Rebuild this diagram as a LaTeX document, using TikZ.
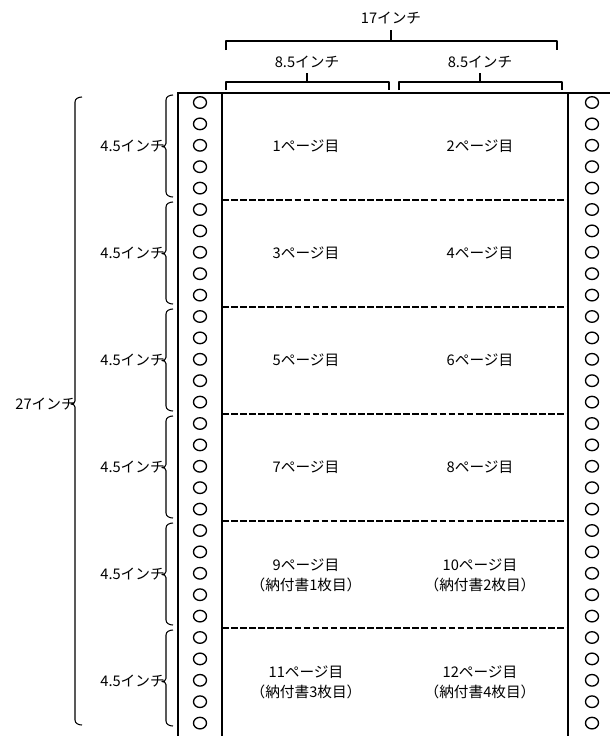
\documentclass[tikz,border=0pt]{standalone}
\usepackage{fontspec}
\newfontfamily\jpfont{Noto Sans CJK JP}
\usetikzlibrary{positioning}

\tikzset{
  frameline/.style={line width=2.2pt},
  perfline/.style={line width=1.4pt, dash pattern=on 5pt off 1.8pt},
  bracket/.style={line width=0.8pt, line join=round},
  hole/.style={line width=1pt},
  pagelabel/.style={align=center, inner sep=0pt, font=\jpfont\fontsize{11}{14.5}\selectfont},
  sizelabel/.style={inner sep=0pt, font=\jpfont\fontsize{11}{13}\selectfont}
}

\begin{document}
\begin{tikzpicture}[x=0.75pt, y=-0.75pt]
  \useasboundingbox (0,0) rectangle (610,736);

  % continuous form paper
  \draw[frameline] (178,740) -- (178,93) -- (615,93);
  \draw[frameline] (222,93) -- (222,740);
  \draw[frameline] (568,93) -- (568,740);
  \foreach \r in {1,...,5}
    \draw[perfline] (222,{93+107*\r}) -- (568,{93+107*\r});
  \foreach \i in {0,...,29} {
    \draw[hole] (200,{102.5+21.4*\i}) ellipse [x radius=6.5, y radius=5.8];
    \draw[hole] (592,{102.5+21.4*\i}) ellipse [x radius=6.5, y radius=5.8];
  }

  % page labels
  \foreach \r/\a/\b in {0/1/2, 1/3/4, 2/5/6, 3/7/8} {
    \node[pagelabel] (pl\r) at (306,{93+107*(\r+0.5)}) {\a ページ目};
    \node[pagelabel] (pr\r) at (480,{93+107*(\r+0.5)}) {\b ページ目};
  }
  \foreach \r/\a/\b/\c/\d in {4/9/10/1/2, 5/11/12/3/4} {
    \node[pagelabel] (pl\r) at (306,{93+107*(\r+0.5)+1}) {\a ページ目\\（納付書\c 枚目）};
    \node[pagelabel] (pr\r) at (480,{93+107*(\r+0.5)+1}) {\b ページ目\\（納付書\d 枚目）};
  }

  % widths
  \node[sizelabel] (w17) at (391,18) {17インチ};
  \draw[bracket] (226,50) -- (226,41) -- (557,41) -- (557,50);
  \draw[bracket] (391,41) -- (391,30);
  \node[sizelabel] (wleft) at (307,62) {8.5インチ};
  \draw[bracket] (226,90) -- (226,82) -- (389,82) -- (389,90);
  \draw[bracket] (307,82) -- (307,73);
  \node[sizelabel] (wright) at (480,62) {8.5インチ};
  \draw[bracket] (399,90) -- (399,82) -- (562,82) -- (562,90);
  \draw[bracket] (480,82) -- (480,73);

  % heights
  \foreach \r in {0,...,5} {
    \pgfmathsetmacro{\top}{95+107*\r}
    \pgfmathsetmacro{\bot}{\r==5 ? 726 : 197+107*\r}
    \pgfmathsetmacro{\mid}{93+107*(\r+0.5)}
    \node[sizelabel, anchor=east] (h\r) at (165,\mid) {4.5インチ};
    \draw[bracket] (173,\top) to[out=180,in=90] (166,\top+5) -- (166,\mid-3)
      to[out=-90,in=0] (162,\mid) to[out=0,in=90] (166,\mid+3)
      -- (166,\bot-5) to[out=-90,in=180] (173,\bot);
  }
  \node[sizelabel, anchor=east] (h27) at (76,404) {27インチ};
  \draw[bracket] (82,97) to[out=180,in=90] (75,102) -- (75,401)
    to[out=-90,in=0] (71,404) to[out=0,in=90] (75,407)
    -- (75,720) to[out=-90,in=180] (82,725);
\end{tikzpicture}
\end{document}
